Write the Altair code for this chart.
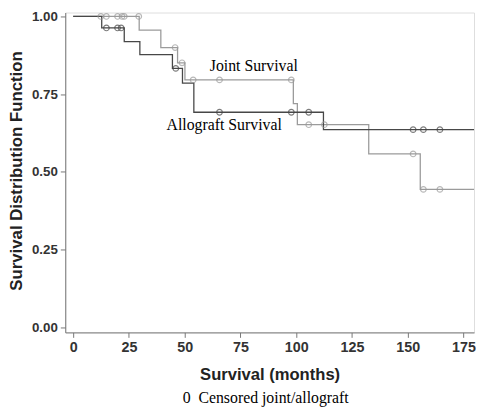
import altair as alt
import pandas as pd

# Kaplan-Meier step curves (time in months, survival value after the step)
joint_t = [0, 29.6, 39.3, 46.8, 50.1, 98.7, 100.5, 132.5, 155.6, 180]
joint_s = [1.0, 0.956, 0.900, 0.851, 0.796, 0.720, 0.652, 0.558, 0.444, 0.444]
allo_t = [0, 12.8, 22.9, 29.9, 44.5, 49.0, 54.1, 112.2, 180]
allo_s = [1.0, 0.963, 0.919, 0.877, 0.833, 0.786, 0.692, 0.636, 0.636]

# censored observations
joint_ct = [12.4, 14.9, 19.9, 21.9, 22.9, 29.4, 45.7, 48.8, 53.8, 65.6, 97.8, 105.6, 112.6, 152.4, 157.0, 164.4]
joint_cs = [1.0, 1.0, 1.0, 1.0, 1.0, 1.0, 0.900, 0.851, 0.796, 0.796, 0.796, 0.652, 0.652, 0.558, 0.444, 0.444]
allo_ct = [14.9, 19.9, 21.5, 46.0, 65.6, 97.8, 105.6, 152.4, 157.0, 164.4]
allo_cs = [0.963, 0.963, 0.963, 0.833, 0.692, 0.692, 0.692, 0.636, 0.636, 0.636]

labels = ["Joint Survival", "Allograft Survival"]
label_t = [81.0, 67.7]
label_s = [0.841, 0.651]

x_ticks = [0, 25, 50, 75, 100, 125, 150, 175]
y_ticks = [0.0, 0.25, 0.5, 0.75, 1.0]

LIGHT = "#9b9b9b"
DARK = "#474747"

curves = pd.DataFrame(
    [{"t": t, "s": s, "g": "Joint"} for t, s in zip(joint_t, joint_s)]
    + [{"t": t, "s": s, "g": "Allograft"} for t, s in zip(allo_t, allo_s)]
)
cens = pd.DataFrame(
    [{"t": t, "s": s, "g": "Joint"} for t, s in zip(joint_ct, joint_cs)]
    + [{"t": t, "s": s, "g": "Allograft"} for t, s in zip(allo_ct, allo_cs)]
)
lab = pd.DataFrame({"t": label_t, "s": label_s, "txt": labels})

xs = alt.Scale(domain=[-3.54, 179.7], nice=False, zero=False)
ys = alt.Scale(domain=[-0.0159, 1.0127], nice=False, zero=False)
cs = alt.Scale(domain=["Joint", "Allograft"], range=[LIGHT, DARK])

x_axis = alt.Axis(
    values=x_ticks, title="Survival (months)", grid=False,
    labelFont="Liberation Sans", labelFontSize=14.5, labelFontWeight="bold", labelColor="#333333",
    labelPadding=3, tickSize=5, tickColor="#777777", domainColor="#777777",
    titleFont="Liberation Sans", titleFontSize=16.8, titleFontWeight="bold", titleColor="#222222",
    titleX=207, titleY=43, titleBaseline="middle", titleAlign="center",
)
y_axis = alt.Axis(
    values=y_ticks, format=".2f", title="Survival Distribution Function", grid=False,
    labelFont="Liberation Sans", labelFontSize=13.5, labelFontWeight="bold", labelColor="#333333",
    labelPadding=3, tickSize=5, tickColor="#777777", domainColor="#777777",
    titleFont="Liberation Sans", titleFontSize=17, titleFontWeight="bold", titleColor="#222222",
    titleX=-44, titleY=160, titleAngle=270, titleBaseline="alphabetic", titleAlign="center",
    titleLimit=400,
)

lines = alt.Chart(curves).mark_line(interpolate="step-after", strokeWidth=1.3, clip=True).encode(
    x=alt.X("t:Q", scale=xs, axis=x_axis),
    y=alt.Y("s:Q", scale=ys, axis=y_axis),
    color=alt.Color("g:N", scale=cs, legend=None),
    detail="g:N",
)
pts = alt.Chart(cens).mark_point(shape="circle", filled=False, size=32, strokeWidth=1.2).encode(
    x=alt.X("t:Q", scale=xs),
    y=alt.Y("s:Q", scale=ys),
    color=alt.Color("g:N", scale=cs, legend=None),
)
txt = alt.Chart(lab).mark_text(font="Liberation Serif", fontSize=16, color="#000000",
                               align="center", baseline="middle").encode(
    x=alt.X("t:Q", scale=xs),
    y=alt.Y("s:Q", scale=ys),
    text="txt:N",
)
caption = alt.Chart(pd.DataFrame({"c": ["0\u00a0\u00a0Censored joint/allograft"]})).mark_text(
    font="Liberation Serif", fontSize=16, color="#000000", align="center", baseline="middle"
).encode(x=alt.value(203), y=alt.value(390), text="c:N")

chart = alt.layer(lines, pts, txt, caption).properties(
    width=414, height=324,
    autosize=alt.AutoSizeParams(type="none"),
    padding={"left": 58, "top": 2, "right": 2, "bottom": 75},
).configure_view(stroke="#777777", strokeWidth=1.2).configure(background="white")

chart.save("out.html", embed_options={"renderer": "svg", "actions": False})
